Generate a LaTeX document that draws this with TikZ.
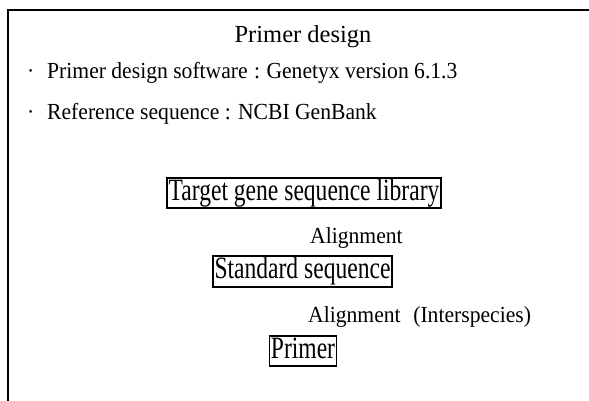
\documentclass[tikz,border=0pt]{standalone}
\usepackage{fontspec}
\setmainfont{Liberation Serif}
\newfontfamily\bodyfont[FakeStretch=0.94]{Liberation Serif}
\newfontfamily\boxfont[FakeStretch=0.76]{Liberation Serif}
\usetikzlibrary{positioning}

\begin{document}
\begin{tikzpicture}[x=1pt,y=-1pt,
    seqbox/.style={draw,line width=1.8pt,inner xsep=1.5pt,inner ysep=1.2pt,
      text height=21.5pt,text depth=6.8pt,
      font=\boxfont\fontsize{31}{32}\selectfont},
    bodytext/.style={anchor=base west,inner sep=0pt,
      font=\bodyfont\fontsize{23}{25}\selectfont}]
  \useasboundingbox (0,0) rectangle (589,401);

  % Frame (top and left edges only)
  \coordinate (TL) at (8,10.5);
  \coordinate (TR) at (589,10.5);
  \coordinate (BL) at (8,401);
  \draw[line width=2pt] (TR) -- (TL) -- (BL);

  % Header
  \node[anchor=base,inner sep=0pt,font=\fontsize{24.5}{26}\selectfont] (title) at (303,43) {Primer design};

  % Notes
  \node[bodytext] (dot1) at (27,79) {\textperiodcentered};
  \node[bodytext] (soft) at (47,79) {Primer design software\;:\;Genetyx version 6.1.3};
  \node[bodytext] (dot2) at (27,120) {\textperiodcentered};
  \node[bodytext] (ref) at (47,120) {Reference sequence : NCBI GenBank};

  % Work flow
  \node[seqbox] (lib) at (304,193) {Target gene sequence library};
  \node[bodytext] (aln1) at (310,243) {Alignment};
  \node[seqbox] (std) at (302.5,271.5) {Standard sequence};
  \node[bodytext] (aln2) at (308,322) {Alignment\hspace{0.55em}(Interspecies)};
  \node[seqbox] (primer) at (303,351) {Primer};
\end{tikzpicture}
\end{document}
